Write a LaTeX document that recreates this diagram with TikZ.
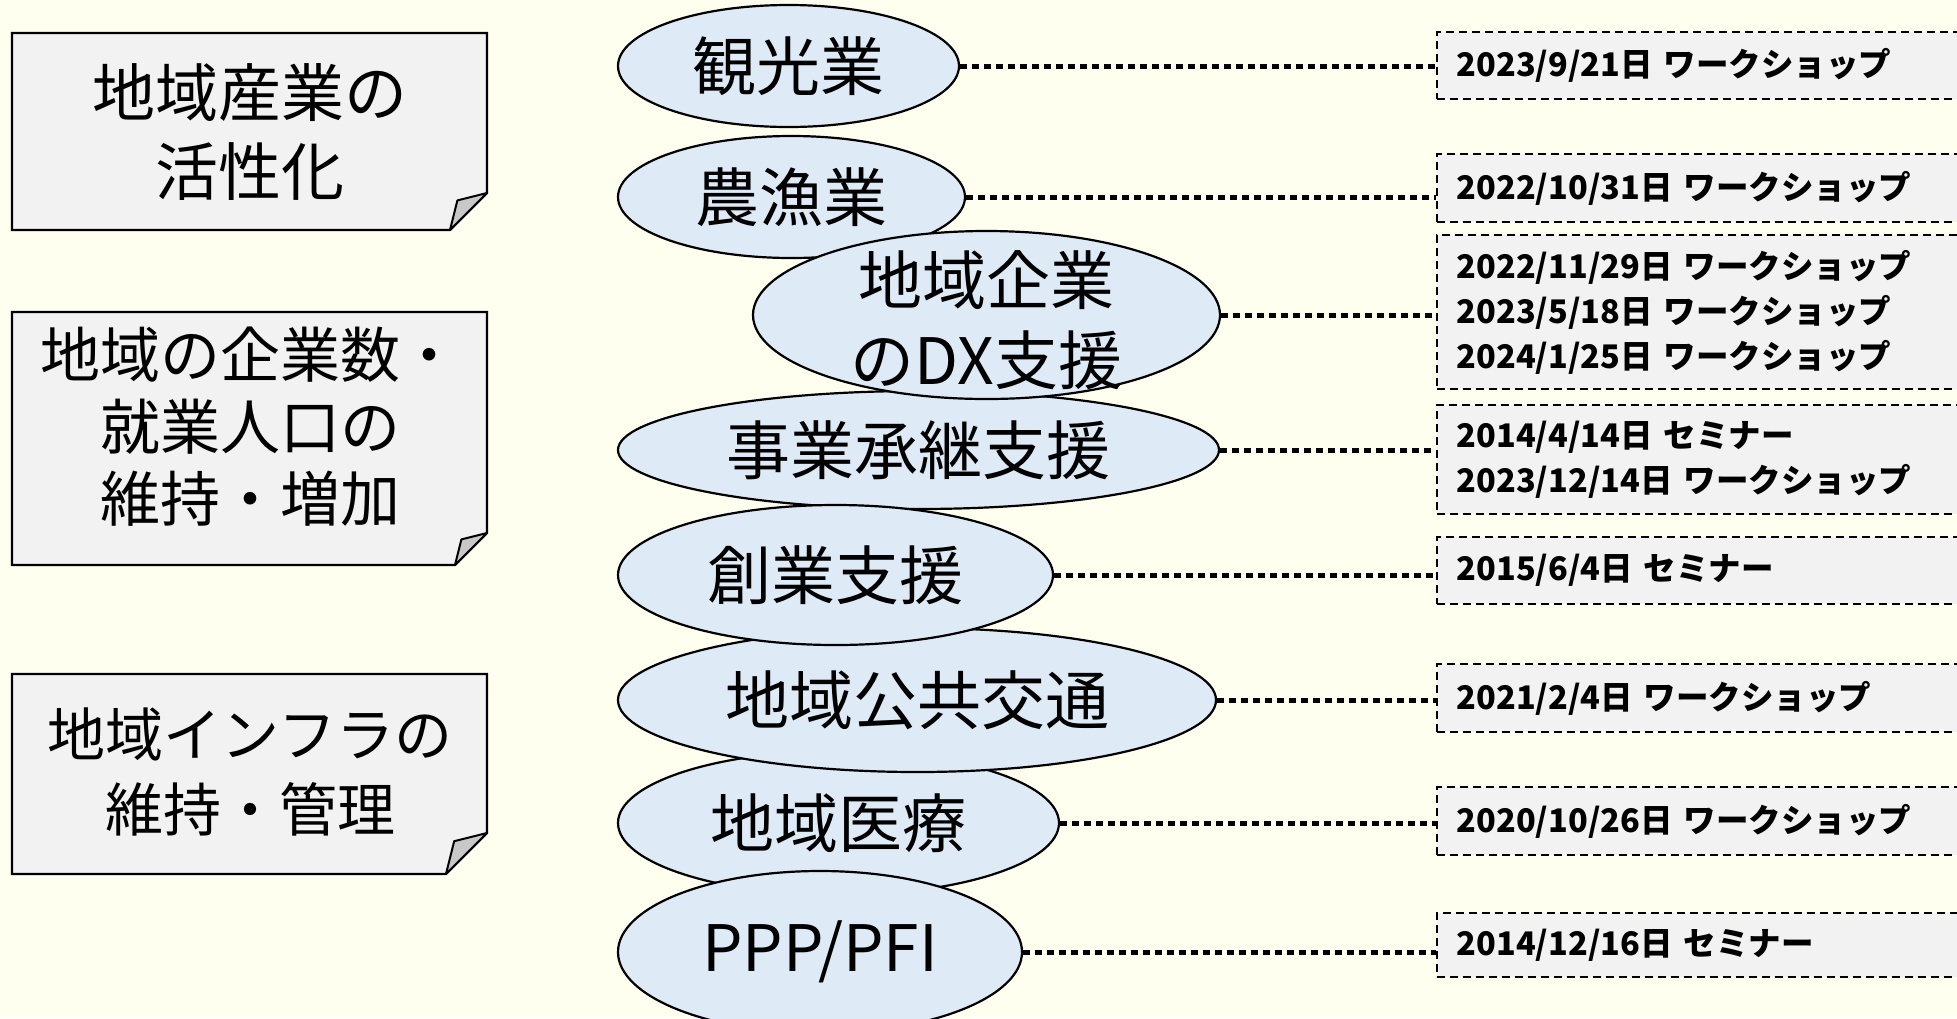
\documentclass[tikz,border=0pt]{standalone}
\usepackage{fontspec}
\setmainfont{Noto Sans CJK JP}
\usetikzlibrary{shapes.geometric,calc}
\definecolor{bgc}{RGB}{255,255,240}
\definecolor{ellc}{RGB}{222,235,247}
\definecolor{boxc}{RGB}{242,242,242}
\definecolor{flapc}{RGB}{200,200,200}
\tikzset{
 ell/.style={ellipse, draw=black, line width=2.2pt, fill=ellc, inner sep=0pt},
 etext/.style={font=\fontsize{64}{80}\selectfont, align=center, inner sep=0pt},
 gtext/.style={align=center, inner sep=0pt},
 evbox/.style={draw=black, dash pattern=on 8pt off 5pt, line width=1.6pt, fill=boxc,
   anchor=west, minimum width=560pt, text width=520pt, inner xsep=20pt, inner ysep=0pt,
   align=left, font=\bfseries\fontsize{32.5}{45}\selectfont},
 dotline/.style={line width=5pt, dash pattern=on 7pt off 5pt},
 fold/.style={draw=black, line width=2.4pt, fill=boxc, line join=miter},
 flap/.style={draw=black, line width=2pt, fill=flapc, line join=round},
}
\newcommand\foldbox[5]{%
 \path[fold] (#1,#2) -- (#3,#2) -- (#3,{#4-#5}) -- ({#3-#5},#4) -- (#1,#4) -- cycle;
 \path[flap] ({#3-#5},#4) -- ({#3-0.8*#5},{#4-0.8*#5}) -- (#3,{#4-#5}) -- cycle;}
\begin{document}
\begin{tikzpicture}[x=1pt,y=-1pt]
\useasboundingbox (0,0) rectangle (1957,1018);
\clip (0,0) rectangle (1957,1018);
\fill[bgc] (0,0) rectangle (1957,1018);

% left goal boxes
\foldbox{12}{33}{487}{230}{37}
\foldbox{12}{312}{487}{565}{32}
\foldbox{12}{674}{487}{874}{41}
\node[gtext, font=\fontsize{63}{79}\selectfont] (g1) at (250,132) {地域産業の\\活性化};
\node[gtext, font=\fontsize{60}{72}\selectfont] (g2) at (250,427) {地域の企業数・\\就業人口の\\維持・増加};
\node[gtext, font=\fontsize{58}{75}\selectfont] (g3) at (250,772) {地域インフラの\\維持・管理};

% right event boxes
\node[evbox, minimum height=67pt] (b1) at (1436,65.5) {2023/9/21日 ワークショップ};
\node[evbox, minimum height=68pt] (b2) at (1436,188) {2022/10/31日 ワークショップ};
\node[evbox, minimum height=154pt] (b3) at (1436,312) {2022/11/29日 ワークショップ\\2023/5/18日 ワークショップ\\2024/1/25日 ワークショップ};
\node[evbox, minimum height=109pt] (b4) at (1436,459.5) {2014/4/14日 セミナー\\2023/12/14日 ワークショップ};
\node[evbox, minimum height=67pt] (b5) at (1436,570.5) {2015/6/4日 セミナー};
\node[evbox, minimum height=68pt] (b6) at (1436,698) {2021/2/4日 ワークショップ};
\node[evbox, minimum height=68pt] (b7) at (1436,821) {2020/10/26日 ワークショップ};
\node[evbox, minimum height=64pt] (b8) at (1436,945) {2014/12/16日 セミナー};

% ellipses (drawing order gives the overlaps)
\node[ell, minimum width=341pt, minimum height=122pt] (e1) at (788.5,66) {};
\node[etext] (t1) at (e1.center) {観光業};
\node[ell, minimum width=347pt, minimum height=122pt] (e2) at (791.5,197) {};
\node[etext] (t2) at (e2.center) {農漁業};
\node[ell, minimum width=601pt, minimum height=118pt] (e4) at (918.5,450) {};
\node[etext] (t4) at (e4.center) {事業承継支援};
\node[ell, minimum width=467pt, minimum height=168pt] (e3) at (986.5,315) {};
\node[etext] (t3) at (986.5,320) {地域企業\\のDX支援};
\node[ell, minimum width=441pt, minimum height=144pt] (e7) at (838.5,823) {};
\node[etext] (t7) at (e7.center) {地域医療};
\node[ell, minimum width=404pt, minimum height=162pt] (e8) at (820,952) {};
\node[etext] (t8) at (e8.center) {PPP/PFI};
\node[ell, minimum width=598pt, minimum height=144pt] (e6) at (917,700) {};
\node[etext] (t6) at (e6.center) {地域公共交通};
\node[ell, minimum width=435pt, minimum height=140pt] (e5) at (835.5,575) {};
\node[etext] (t5) at (e5.center) {創業支援};

% dotted connectors
\foreach \i in {1,...,8}{
  \draw[dotline] (e\i.east) -- (e\i.east -| b\i.west);
}
\end{tikzpicture}
\end{document}
